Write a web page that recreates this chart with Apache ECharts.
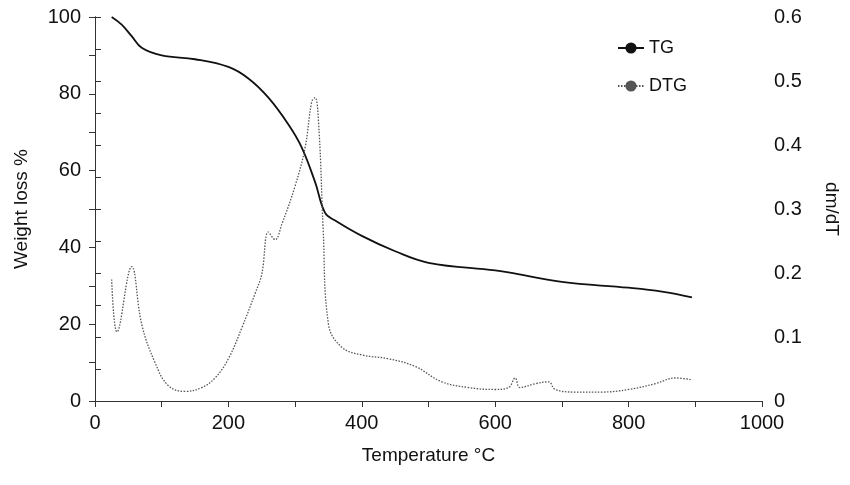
<!DOCTYPE html>
<html><head><meta charset="utf-8">
<script src="https://cdn.jsdelivr.net/npm/echarts@6/dist/echarts.min.js"></script>
<style>html,body{margin:0;padding:0;background:#fff}#c{width:850px;height:485px}</style>
</head><body><div id="c"></div>
<script>
const tgT = [25,40,55,70,100,150,200,230,260,290,310,330,345,360,400,450,500,600,620,700,800,850,895];
const tgW = [100,98,95,92,90,89,87,84,79,72,66,57,49,47,43,39,36,34,33.5,31,29.5,28.5,27];
const dtgT = [25,33,55,70,90,110,135,160,180,200,220,240,250,260,270,280,300,315,325,330,336,342,350,370,400,440,480,520,560,600,620,630,637,660,680,690,720,760,800,840,870,895];
const dtgV = [0.19,0.108,0.21,0.12,0.06,0.024,0.015,0.021,0.036,0.066,0.114,0.168,0.198,0.264,0.252,0.276,0.336,0.396,0.468,0.474,0.42,0.27,0.12,0.084,0.072,0.066,0.054,0.03,0.021,0.018,0.021,0.036,0.021,0.027,0.03,0.018,0.014,0.014,0.018,0.027,0.036,0.033];
const font = 'Liberation Sans';
const lbl = {color:'#111', fontSize:20, fontFamily:font};
const chart = echarts.init(document.getElementById('c'));
chart.setOption({
  animation:false,
  grid:{left:95,right:88,top:17,bottom:84},
  legend:{orient:'vertical',left:612,top:34,itemGap:20,itemWidth:26,
    textStyle:{fontSize:18,fontFamily:font,color:'#111'},
    data:['TG','DTG']},
  xAxis:[{type:'value',min:0,max:1000,interval:200,name:'Temperature °C',nameLocation:'middle',nameGap:45,
    nameTextStyle:{...lbl,fontSize:19},axisLabel:{...lbl,margin:12,formatter:v=>String(v)},
    axisLine:{lineStyle:{color:'#333'}},axisTick:{length:6,lineStyle:{color:'#333'}},
    minorTick:{show:true,splitNumber:2,length:6,lineStyle:{color:'#333'}},splitLine:{show:false}},
    {type:'value',position:'top',min:0,max:1000,axisLine:{show:true,lineStyle:{color:'#333'}},axisTick:{show:false},axisLabel:{show:false},splitLine:{show:false}}],
  yAxis:[{type:'value',min:0,max:100,interval:20,name:'Weight loss %',nameLocation:'middle',nameGap:64,
    nameTextStyle:{...lbl,fontSize:19},axisLabel:{...lbl,margin:14},
    axisLine:{show:true,lineStyle:{color:'#333'}},axisTick:{show:true,length:6,lineStyle:{color:'#333'}},
    minorTick:{show:true,splitNumber:2,length:6,lineStyle:{color:'#333'}},splitLine:{show:false}},
    {type:'value',min:0,max:0.6,interval:0.1,name:'dm/dT',nameLocation:'middle',nameGap:60,nameRotate:-90,
    nameTextStyle:{...lbl,fontSize:19},axisLabel:{...lbl,margin:12},
    axisLine:{show:true,lineStyle:{color:'#333'}},axisTick:{show:true,length:6,lineStyle:{color:'#333'}},
    minorTick:{show:true,splitNumber:2,length:6,lineStyle:{color:'#333'}},splitLine:{show:false}}],
  series:[
    {name:'TG',type:'line',smooth:0.4,symbol:'none',yAxisIndex:0,color:'#111',
      lineStyle:{width:1.8,color:'#111'},data:tgT.map((t,i)=>[t,tgW[i]])},
    {name:'DTG',type:'line',smooth:0.4,symbol:'none',yAxisIndex:1,color:'#555',
      lineStyle:{width:1.3,type:[1.5,1.5],color:'#555'},data:dtgT.map((t,i)=>[t,dtgV[i]])}
  ]
});
</script></body></html>
